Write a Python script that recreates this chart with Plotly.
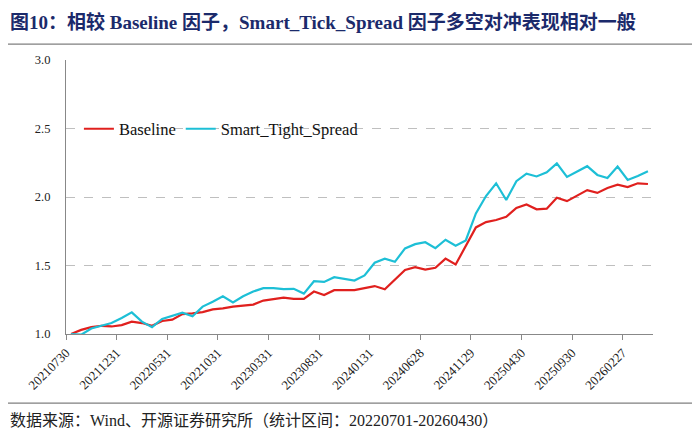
import plotly.graph_objects as go

dates = [
    "20210730", "20210831", "20210930", "20211029", "20211130", "20211231",
    "20220128", "20220228", "20220331", "20220429", "20220531", "20220630",
    "20220729", "20220831", "20220930", "20221031", "20221130", "20221230",
    "20230131", "20230228", "20230331", "20230428", "20230531", "20230630",
    "20230731", "20230831", "20230928", "20231031", "20231130", "20231229",
    "20240131", "20240229", "20240329", "20240430", "20240531", "20240628",
    "20240731", "20240830", "20240930", "20241031", "20241129", "20241231",
    "20250127", "20250228", "20250331", "20250430", "20250530", "20250630",
    "20250731", "20250829", "20250930", "20251031", "20251128", "20251231",
    "20260130", "20260227", "20260331", "20260430",
]

baseline = [
    1.00, 1.03, 1.05, 1.06, 1.055, 1.065, 1.09, 1.08, 1.06, 1.095,
    1.105, 1.145, 1.15, 1.16, 1.18, 1.187, 1.20, 1.21, 1.215, 1.244,
    1.256, 1.266, 1.256, 1.256, 1.31, 1.285, 1.32, 1.32, 1.32, 1.335,
    1.35, 1.327, 1.40, 1.468, 1.488, 1.47, 1.483, 1.55, 1.507, 1.646,
    1.778, 1.817, 1.832, 1.855, 1.92, 1.946, 1.91, 1.915, 1.995, 1.97,
    2.012, 2.05, 2.03, 2.066, 2.09, 2.072, 2.10, 2.095,
]

smart_tight = [
    1.00, 0.995, 1.04, 1.06, 1.08, 1.117, 1.158, 1.09, 1.05, 1.11,
    1.13, 1.155, 1.13, 1.20, 1.235, 1.275, 1.23, 1.275, 1.31, 1.335,
    1.335, 1.327, 1.33, 1.295, 1.385, 1.38, 1.415, 1.40, 1.39, 1.427,
    1.52, 1.55, 1.527, 1.625, 1.656, 1.67, 1.627, 1.688, 1.644, 1.683,
    1.88, 2.007, 2.10, 1.978, 2.115, 2.17, 2.15, 2.18, 2.245, 2.147,
    2.186, 2.225, 2.161, 2.139, 2.222, 2.124, 2.154, 2.188,
]

tick_every = 5
yticks = [1.0, 1.5, 2.0, 2.5, 3.0]

title_text = "图10：相较 Baseline 因子，Smart_Tick_Spread 因子多空对冲表现相对一般"
source_text = "数据来源：Wind、开源证券研究所（统计区间：20220701-20260430）"

xs = list(range(len(dates)))
tick_idx = list(range(0, len(dates), tick_every))

serif = "Liberation Serif, 'Times New Roman', 'Noto Sans CJK SC', serif"

fig = go.Figure()
fig.add_trace(go.Scatter(x=xs, y=baseline, mode="lines", name="Baseline",
                         line=dict(color="#E0201E", width=2.2)))
fig.add_trace(go.Scatter(x=xs, y=smart_tight, mode="lines", name="Smart_Tight_Spread",
                         line=dict(color="#1DBFD6", width=2.2)))

fig.update_layout(
    width=700, height=437,
    margin=dict(l=58, r=55, t=52, b=111),
    paper_bgcolor="white", plot_bgcolor="white",
    font=dict(family=serif, color="#222222", size=12),
    showlegend=True,
    legend=dict(orientation="h", x=0.022, y=0.748, xanchor="left", yanchor="middle",
                bgcolor="rgba(0,0,0,0)", font=dict(family=serif, size=16.5, color="#111111"),
                itemwidth=30, tracegroupgap=0),
    xaxis=dict(
        range=[-0.5, len(dates) - 0.5],
        tickmode="array",
        tickvals=[i - 0.5 for i in tick_idx],
        ticktext=[dates[i] for i in tick_idx],
        tickangle=-45,
        ticks="outside", ticklen=5, tickcolor="#888888",
        showline=True, linecolor="#888888", linewidth=1.2,
        showgrid=False, zeroline=False,
        tickfont=dict(family=serif, size=13, color="#222222"),
    ),
    yaxis=dict(
        range=[1.0, 3.0],
        tickmode="array",
        tickvals=yticks,
        ticktext=[f"{v:.1f}" for v in yticks],
        showline=True, linecolor="#888888", linewidth=1.2,
        showgrid=True, gridcolor="#BFBFBF", griddash="dash", gridwidth=1,
        zeroline=False, ticks="", ticklabelstandoff=12,
        tickfont=dict(family=serif, size=12.5, color="#222222"),
    ),
)

# separator lines (title underline and footnote line)
for yy in (1.058, -0.252):
    fig.add_shape(type="line", xref="paper", yref="paper",
                  x0=-0.099, x1=1.072, y0=yy, y1=yy,
                  line=dict(color="#7F7F7F", width=1.2))

fig.add_annotation(text="<b>" + title_text + "</b>", xref="paper", yref="paper",
                   x=-0.099, y=1.14, xanchor="left", yanchor="middle", showarrow=False,
                   font=dict(family=serif, size=19, color="#1B2A6B"))
fig.add_annotation(text=source_text, xref="paper", yref="paper",
                   x=-0.099, y=-0.317, xanchor="left", yanchor="middle", showarrow=False,
                   font=dict(family=serif, size=16, color="#222222"))

fig.write_html("out.html")
